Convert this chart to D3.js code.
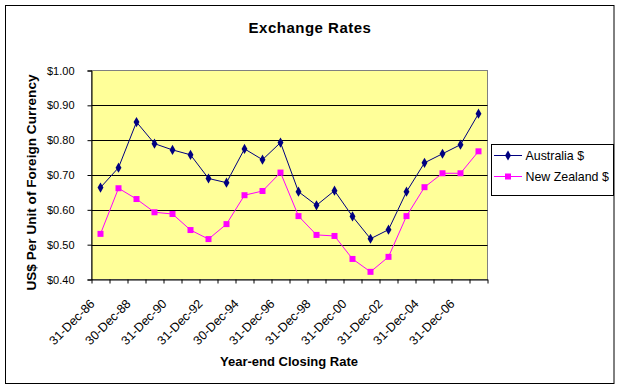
<!DOCTYPE html>
<html><head><meta charset="utf-8">
<script src="https://cdn.jsdelivr.net/npm/d3@7/dist/d3.min.js"></script>
<style>body{margin:0;background:#fff}svg{display:block}text{font-family:Arial,"Liberation Sans",sans-serif}</style>
</head><body>
<svg id="c" width="621" height="390"></svg>
<script>
const categories = ["31-Dec-86","31-Dec-87","30-Dec-88","29-Dec-89","31-Dec-90","31-Dec-91","31-Dec-92","31-Dec-93","30-Dec-94","29-Dec-95","31-Dec-96","31-Dec-97","31-Dec-98","31-Dec-99","31-Dec-00","31-Dec-01","31-Dec-02","31-Dec-03","31-Dec-04","30-Dec-05","31-Dec-06","31-Dec-07"];
const australia = [0.664,0.721,0.852,0.790,0.772,0.758,0.690,0.678,0.775,0.744,0.793,0.652,0.613,0.655,0.581,0.517,0.543,0.652,0.735,0.761,0.787,0.876];
const newZealand = [0.531,0.662,0.631,0.593,0.588,0.542,0.516,0.559,0.642,0.654,0.707,0.582,0.528,0.525,0.459,0.422,0.465,0.582,0.665,0.705,0.705,0.768];
const yTicks = [0.4,0.5,0.6,0.7,0.8,0.9,1.0];
const seriesNames = ["Australia $","New Zealand $"];

const svg = d3.select("#c");
const L=91.5, R=487.5, T=70.5, B=279.5;
svg.append("rect").attr("x",5.5).attr("y",5.5).attr("width",608.5).attr("height",378).attr("fill","#fff").attr("stroke","#000").attr("stroke-width",1);

const x = d3.scaleBand().domain(categories).range([L,R]);
const xb = d3.scaleLinear().domain([0,categories.length]).range([L,R]);
const y = d3.scaleLinear().domain([0.4,1.0]).range([B,T]);

svg.append("rect").attr("x",L).attr("y",T).attr("width",R-L).attr("height",B-T).attr("fill","#FFFF99").attr("stroke","#808080").attr("stroke-width",1);

// gridlines
svg.append("g").selectAll("line").data(yTicks.slice(1,-1)).join("line")
  .attr("x1",L).attr("x2",R).attr("y1",d=>Math.round(y(d))+0.5).attr("y2",d=>Math.round(y(d))+0.5)
  .attr("stroke","#000").attr("stroke-width",1);

// y axis
const ya = svg.append("g").attr("transform",`translate(${L},0)`)
  .call(d3.axisLeft(y).tickValues(yTicks).tickFormat(d=>"$"+d.toFixed(2)).tickSize(4).tickPadding(13));
ya.select(".domain").attr("stroke","#000");
ya.selectAll("line").attr("stroke","#000");
ya.selectAll("text").attr("font-size","11px").attr("fill","#000").attr("font-family","Arial, 'Liberation Sans', sans-serif");

// x axis ticks at category boundaries
const xa = svg.append("g").attr("transform",`translate(0,${B})`)
  .call(d3.axisBottom(xb).tickValues(d3.range(categories.length+1)).tickFormat("").tickSize(4).tickSizeOuter(0));
xa.select(".domain").attr("stroke","#000");
xa.selectAll("line").attr("stroke","#000");

// x labels
svg.append("g").selectAll("text").data(categories.filter((d,i)=>i%2===0)).join("text")
  .attr("transform",d=>`translate(${x(d)+x.bandwidth()/2-5},${B+25}) rotate(-45)`)
  .attr("text-anchor","end").attr("font-size","12.5px").attr("fill","#000").text(d=>d);

// lines
const line = d3.line().x((d,i)=>x(categories[i])+x.bandwidth()/2).y(d=>y(d));
svg.append("path").datum(newZealand).attr("d",line).attr("fill","none").attr("stroke","#FF00FF").attr("stroke-width",1);
svg.append("path").datum(australia).attr("d",line).attr("fill","none").attr("stroke","#000080").attr("stroke-width",1);

const sq = d3.symbol().type(d3.symbolSquare).size(36);
const dm = d3.symbol().type(d3.symbolDiamond).size(30);
svg.append("g").selectAll("path").data(newZealand).join("path")
  .attr("transform",(d,i)=>`translate(${x(categories[i])+x.bandwidth()/2},${y(d)})`).attr("d",sq).attr("fill","#FF00FF");
svg.append("g").selectAll("path").data(australia).join("path")
  .attr("transform",(d,i)=>`translate(${x(categories[i])+x.bandwidth()/2},${y(d)})`).attr("d",dm).attr("fill","#000080");

// titles
svg.append("text").attr("x",310).attr("y",33).attr("text-anchor","middle").attr("font-size","15px").attr("font-weight","bold").attr("letter-spacing","0.5px").text("Exchange Rates");
svg.append("text").attr("x",289).attr("y",366).attr("text-anchor","middle").attr("font-size","13px").attr("font-weight","bold").text("Year-end Closing Rate");
svg.append("text").attr("transform","translate(35.5,182.5) rotate(-90)").attr("text-anchor","middle").attr("font-size","13.6px").attr("font-weight","bold").text("US$ Per Unit of Foreign Currency");

// legend
const lg = svg.append("g");
lg.append("rect").attr("x",491.5).attr("y",144.5).attr("width",122).attr("height",51).attr("fill","#fff").attr("stroke","#000").attr("stroke-width",1);
const colors = ["#000080","#FF00FF"];
const syms = [dm, sq];
seriesNames.forEach((n,i)=>{
  const yy = 155.5 + i*21;
  lg.append("line").attr("x1",494).attr("x2",522).attr("y1",yy).attr("y2",yy).attr("stroke",colors[i]).attr("stroke-width",1);
  lg.append("path").attr("transform",`translate(508,${yy})`).attr("d",syms[i]).attr("fill",colors[i]);
  lg.append("text").attr("x",525.5).attr("y",yy+4.5).attr("font-size","12.4px").text(n);
});
</script>
</body></html>
